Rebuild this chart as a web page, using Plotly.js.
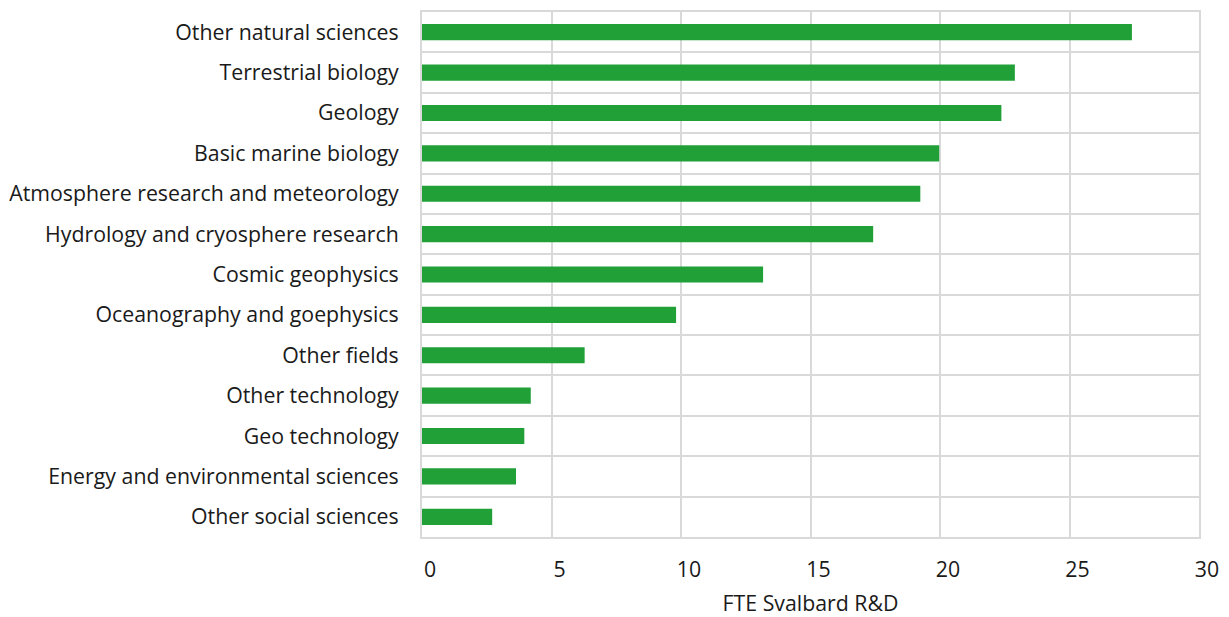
<!DOCTYPE html>
<html>
<head>
<meta charset="utf-8">
<script src="https://cdn.plot.ly/plotly-3.0.1.min.js"></script>
<style>
html, body { margin: 0; padding: 0; background: #ffffff; }
#chart { width: 1229px; height: 617px; }
</style>
</head>
<body>
<div id="chart"></div>
<script>
const categories = [
  "Other natural sciences",
  "Terrestrial biology",
  "Geology",
  "Basic marine biology",
  "Atmosphere research and meteorology",
  "Hydrology and cryosphere research",
  "Cosmic geophysics",
  "Oceanography and goephysics",
  "Other fields",
  "Other technology",
  "Geo technology",
  "Energy and environmental sciences",
  "Other social sciences"
];
const fteValues = [27.41, 22.89, 22.37, 19.97, 19.24, 17.42, 13.17, 9.81, 6.28, 4.20, 3.95, 3.63, 2.71];
const xTickValues = [0, 5, 10, 15, 20, 25, 30];
const xTitle = "FTE Svalbard R&D";

const gridColor = "#d9d9d9";
const fontFamily = "'Open Sans', 'Noto Sans', sans-serif";
const textColor = "#1a1a1a";
const fontSize = 21.3;

const trace = {
  type: "bar",
  orientation: "h",
  x: fteValues,
  y: categories,
  marker: { color: "#21a038", line: { width: 0 } },
  hoverinfo: "x+y"
};

const layout = {
  width: 1229,
  height: 617,
  margin: { l: 421.5, r: 29.6, t: 12, b: 80.3 },
  paper_bgcolor: "#ffffff",
  plot_bgcolor: "#ffffff",
  showlegend: false,
  bargap: 0.6,
  font: { family: fontFamily, size: fontSize, color: textColor },
  xaxis: {
    range: [0, 30],
    tickvals: xTickValues,
    ticktext: xTickValues.map(String),
    showgrid: true,
    gridcolor: gridColor,
    gridwidth: 2,
    zeroline: false,
    showline: true,
    linecolor: gridColor,
    linewidth: 2,
    mirror: true,
    ticks: "",
    ticklabelstandoff: 12,
    ticklabelshift: 8,
    tickfont: { family: fontFamily, size: fontSize, color: textColor },
    title: { text: xTitle, font: { family: fontFamily, size: fontSize, color: textColor }, standoff: 15 }
  },
  yaxis: {
    type: "category",
    autorange: "reversed",
    tickson: "boundaries",
    showgrid: true,
    gridcolor: gridColor,
    gridwidth: 2,
    showline: true,
    linecolor: gridColor,
    linewidth: 2,
    mirror: true,
    ticks: "",
    ticklabelstandoff: 17,
    tickfont: { family: fontFamily, size: fontSize, color: textColor }
  }
};

Plotly.newPlot("chart", [trace], layout, { displayModeBar: false, staticPlot: true });
</script>
</body>
</html>
